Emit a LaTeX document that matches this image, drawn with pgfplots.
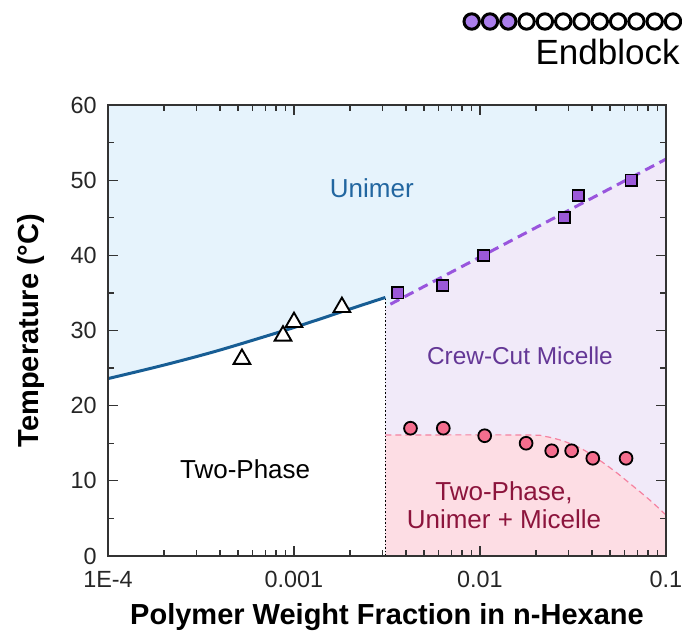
\documentclass[border=0pt]{standalone}
\usepackage{pgfplots}
\pgfplotsset{compat=1.18}
\usepackage{fontspec}
\setmainfont{Liberation Sans}
\definecolor{bluebg}{RGB}{230,243,252}
\definecolor{purplebg}{RGB}{241,234,249}
\definecolor{pinkbg}{RGB}{253,221,228}
\definecolor{blueline}{RGB}{23,93,148}
\definecolor{purpleline}{RGB}{153,85,221}
\definecolor{sqfill}{RGB}{155,89,217}
\definecolor{circfill}{RGB}{244,110,142}
\definecolor{pinkline}{RGB}{245,130,160}
\definecolor{unimertxt}{RGB}{34,102,160}
\definecolor{crewtxt}{RGB}{100,55,150}
\definecolor{redtxt}{RGB}{140,20,60}
\definecolor{iconfill}{RGB}{170,125,235}
\begin{document}
\begin{tikzpicture}
\begin{axis}[
  scale only axis, width=279pt, height=225.5pt,
  xmode=log, xmin=1e-4, xmax=0.1, ymin=0, ymax=60,
  xtick={1e-4,0.001,0.01,0.1}, xticklabels={1E-4,0.001,0.01,0.1},
  ytick={0,10,...,60}, minor y tick num=1,
  tick align=inside, major tick length=5pt, minor tick length=3pt,
  every tick/.style={black!80, line width=0.6pt},
  axis line style={black!80, line width=0.75pt},
  axis background/.style={fill=bluebg},
  axis on top,
  /pgf/number format/assume math mode=true,
  tick label style={font=\fontsize{11.7}{14}\selectfont, text=black!85, inner sep=0pt},
  x tick label style={anchor=north, yshift=-7.6pt},
  y tick label style={anchor=east, xshift=-5.5pt},
  xlabel={Polymer Weight Fraction in n-Hexane},
  ylabel={Temperature (°C)},
  label style={font=\fontsize{14.5}{17}\selectfont\bfseries},
  x label style={at={(axis description cs:0.5,-0.1508)}, anchor=base},
  y label style={at={(axis description cs:-0.1254,0.5)}, anchor=base},
  clip=true,
]
\coordinate (BL) at (rel axis cs:0,0);
% regions
\addplot[draw=none, fill=white, forget plot] coordinates {
 (1e-4,0) (1e-4,23.6) (2e-4,25.4) (4e-4,27.4) (1e-3,30.4) (2e-3,32.86) (0.0031,34.4) (0.0031,0)};
\addplot[draw=none, fill=purplebg, forget plot] coordinates {
 (0.0031,0) (0.0031,33.1) (0.1,52.8) (0.1,0)};
\addplot[draw=none, fill=pinkbg, forget plot] coordinates {
 (0.0031,0) (0.0031,16.1) (0.0175,16.1) (0.0225,15.9) (0.028,15.3) (0.035,14.3) (0.043,12.9) (0.0535,11.2) (0.0665,9.3) (0.0822,7.4) (0.1,5.45) (0.1,0)};
% boundaries
\addplot[pinkline, line width=0.6pt, dash pattern=on 3pt off 2pt, smooth] coordinates {
 (0.0031,16.1) (0.0175,16.1) (0.0225,15.9) (0.028,15.3) (0.035,14.3) (0.043,12.9) (0.0535,11.2) (0.0665,9.3) (0.0822,7.4) (0.1,5.45)};
\addplot[black, line width=0.8pt, densely dotted] coordinates {(0.0031,0) (0.0031,34.4)};
\addplot[blueline, line width=1.5pt, smooth] coordinates {
 (1e-4,23.6) (2e-4,25.4) (4e-4,27.4) (1e-3,30.4) (2e-3,32.86) (0.0031,34.4)};
\addplot[purpleline, line width=1.5pt, dash pattern=on 5pt off 3pt] coordinates {
 (0.0033,33.5) (0.1,52.8)};
% data
\addplot[only marks, mark=triangle*, mark size=4.8pt, mark options={fill=white, draw=black, line width=0.95pt}] coordinates {
 (0.000525,26.2) (0.000873,29.3) (0.001,31.1) (0.00181,33.1)};
\addplot[only marks, mark=square*, mark size=2.8pt, mark options={fill=sqfill, draw=black, line width=0.9pt}] coordinates {
 (0.00362,35) (0.00632,36) (0.0105,40) (0.0283,45) (0.0337,48) (0.0649,50)};
\addplot[only marks, mark=*, mark size=3.2pt, mark options={fill=circfill, draw=black, line width=0.9pt}] coordinates {
 (0.00423,17) (0.00635,17) (0.0106,16) (0.0177,15) (0.0243,14) (0.0311,14) (0.0404,13) (0.061,13)};
% region labels
\node[text=unimertxt, font=\fontsize{13}{15}\selectfont] at (axis cs:0.00262,48.9) {Unimer};
\node[text=crewtxt, font=\fontsize{12.2}{15}\selectfont] at (axis cs:0.0164,26.6) {Crew-Cut Micelle};
\node[text=black, font=\fontsize{13}{15}\selectfont] at (axis cs:0.000546,11.6) {Two-Phase};
\node[text=redtxt, font=\fontsize{13}{15}\selectfont, align=center] at (axis cs:0.01346,6.8) {Two-Phase,\\[-1pt]Unimer + Micelle};
\end{axis}
\begin{scope}[shift={(BL)}]
\foreach \i in {0,...,11}{
  \ifnum\i<3
    \draw[black, line width=1.5pt, fill=iconfill] (181.85pt+\i*9.15pt,267.25pt) circle (3.85pt);
  \else
    \draw[black, line width=1.5pt, fill=white] (181.85pt+\i*9.15pt,267.25pt) circle (3.85pt);
  \fi
}
\node[anchor=base east, inner sep=0pt, font=\fontsize{17.5}{20}\selectfont] at (286pt,245.5pt) {Endblock};
\end{scope}
\pgfresetboundingbox
\path (BL) ++(-54pt,-40.5pt) rectangle ++(341pt,318.5pt);
\end{tikzpicture}
\end{document}
